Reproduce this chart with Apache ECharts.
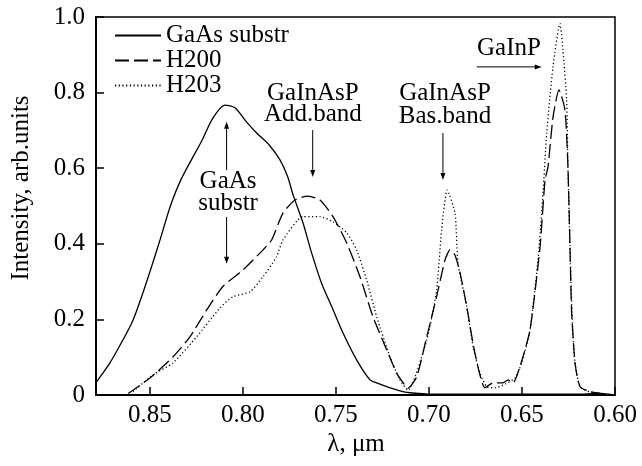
<!DOCTYPE html>
<html>
<head>
<meta charset="utf-8">
<script src="https://cdn.jsdelivr.net/npm/echarts@6/dist/echarts.min.js"></script>
<style>
  html, body { margin: 0; padding: 0; background: #fff; }
  #chart { width: 642px; height: 466px; }
</style>
</head>
<body>
<div id="chart"></div>
<script>
// wavelength (um) and intensity (arb. units)
var gaasLambda = [0.8787, 0.8715, 0.8645, 0.8591, 0.8538, 0.8491, 0.8446, 0.8390, 0.8330, 0.8222, 0.8161, 0.8097, 0.8043,
                  0.7980, 0.7920, 0.7860, 0.7801, 0.7760, 0.7731, 0.7677, 0.7631, 0.7577, 0.7523, 0.7462, 0.7389,
                  0.7317, 0.7281, 0.7227, 0.7156, 0.7102, 0.7012, 0.6500, 0.6200, 0.6100, 0.6000];
var gaasInt = [0.035, 0.085, 0.146, 0.198, 0.270, 0.340, 0.410, 0.500, 0.573, 0.672, 0.733, 0.767, 0.760,
               0.722, 0.690, 0.662, 0.622, 0.578, 0.530, 0.455, 0.376, 0.295, 0.234, 0.164, 0.093,
               0.040, 0.032, 0.022, 0.011, 0.006, 0.003, 0.002, 0.002, 0.004, 0.000];

var h200Lambda = [0.8617, 0.8500, 0.8376, 0.8285, 0.8195, 0.8108, 0.8000, 0.7892, 0.7846, 0.7785, 0.7720, 0.7651,
                  0.7586, 0.7516, 0.7442, 0.7371, 0.7301, 0.7227, 0.7174, 0.7129, 0.7113, 0.7066, 0.7012, 0.6959,
                  0.6914, 0.6887, 0.6860, 0.6833, 0.6797, 0.6753, 0.6699, 0.6656, 0.6602, 0.6575, 0.6548, 0.6511,
                  0.6457, 0.6403, 0.6376, 0.6360, 0.6333, 0.6301, 0.6269, 0.6253, 0.6242, 0.6233, 0.6215, 0.6188,
                  0.6134, 0.6081, 0.6011];
var h200Int = [0.004, 0.045, 0.101, 0.154, 0.225, 0.287, 0.331, 0.384, 0.410, 0.481, 0.516, 0.526,
               0.516, 0.472, 0.402, 0.313, 0.207, 0.119, 0.058, 0.026, 0.018, 0.048, 0.154, 0.260,
               0.357, 0.384, 0.370, 0.323, 0.234, 0.111, 0.019, 0.032, 0.032, 0.040, 0.032, 0.075,
               0.172, 0.392, 0.569, 0.604, 0.736, 0.807, 0.754, 0.604, 0.392, 0.217, 0.085, 0.022,
               0.009, 0.005, 0.000];

var h203Lambda = [0.8591, 0.8484, 0.8376, 0.8249, 0.8124, 0.8054, 0.7962, 0.7892, 0.7819, 0.7785, 0.7677, 0.7586,
                  0.7516, 0.7442, 0.7389, 0.7335, 0.7281, 0.7210, 0.7156, 0.7113, 0.7012, 0.6959, 0.6932, 0.6902,
                  0.6860, 0.6844, 0.6797, 0.6763, 0.6726, 0.6690, 0.6645, 0.6590, 0.6538, 0.6500, 0.6457, 0.6414,
                  0.6387, 0.6367, 0.6333, 0.6296, 0.6280, 0.6260, 0.6253, 0.6242, 0.6231, 0.6215, 0.6188, 0.6134,
                  0.6054];
var h203Int = [0.009, 0.053, 0.085, 0.154, 0.230, 0.260, 0.273, 0.313, 0.366, 0.410, 0.472, 0.472,
               0.458, 0.429, 0.384, 0.304, 0.207, 0.101, 0.040, 0.013, 0.146, 0.278, 0.437, 0.542,
               0.481, 0.349, 0.234, 0.128, 0.058, 0.022, 0.019, 0.029, 0.045, 0.087, 0.172, 0.357,
               0.534, 0.693, 0.869, 0.983, 0.913, 0.780, 0.604, 0.392, 0.217, 0.085, 0.022, 0.008,
               0.003];

var seriesNames = ['GaAs substr', 'H200', 'H203'];

// annotation texts and arrows, in data units [lambda, intensity]
var noteTexts = [
    {text: 'GaAs', at: [0.808, 0.566]},
    {text: 'substr', at: [0.808, 0.508]},
    {text: 'GaInAsP', at: [0.7624, 0.799]},
    {text: 'Add.band', at: [0.7624, 0.741]},
    {text: 'GaInAsP', at: [0.6914, 0.797]},
    {text: 'Bas.band', at: [0.6914, 0.737]},
    {text: 'GaInP', at: [0.657, 0.918]}
];
var noteArrows = [
    [[0.8088, 0.595], [0.8088, 0.723]],
    [[0.8088, 0.471], [0.8088, 0.347]],
    [[0.7625, 0.701], [0.7625, 0.577]],
    [[0.6925, 0.693], [0.6925, 0.569]],
    [[0.6744, 0.868], [0.6394, 0.868]]
];

function pairs(xs, ys) {
    var out = [];
    for (var i = 0; i < xs.length; i++) out.push([xs[i], ys[i]]);
    return out;
}

var FONT = 'Liberation Serif';
var FS = 25;
var chart = echarts.init(document.getElementById('chart'), null, {renderer: 'canvas'});

var option = {
    backgroundColor: '#fff',
    animation: false,
    grid: {left: 96, right: 27, top: 17, bottom: 71, show: true, borderColor: '#000', borderWidth: 1.5},
    legend: {
        orient: 'vertical',
        left: 114,
        top: 23,
        padding: 0,
        itemGap: 0,
        itemWidth: 46,
        itemHeight: 20,
        data: seriesNames,
        itemStyle: {opacity: 0},
        textStyle: {fontFamily: FONT, fontSize: FS, color: '#000', lineHeight: 20}
    },
    xAxis: {
        type: 'value',
        inverse: true,
        min: 0.6,
        max: 0.879,
        interval: 0.05,
        splitLine: {show: false},
        axisLine: {lineStyle: {color: '#000', width: 2}},
        axisTick: {inside: true, length: 8, lineStyle: {color: '#000', width: 1.5}},
        axisLabel: {
            showMaxLabel: false,
            margin: 8,
            fontFamily: FONT, fontSize: FS, color: '#000',
            formatter: function (v) { return v.toFixed(2); }
        }
    },
    yAxis: {
        type: 'value',
        min: 0,
        max: 1,
        interval: 0.2,
        splitLine: {show: false},
        axisLine: {lineStyle: {color: '#000', width: 2}},
        axisTick: {inside: true, length: 8, lineStyle: {color: '#000', width: 1.5}},
        axisLabel: {
            margin: 11,
            fontFamily: FONT, fontSize: FS, color: '#000',
            formatter: function (v) { return v === 0 ? '0' : v.toFixed(1); }
        }
    },
    series: [
        {
            name: seriesNames[0], type: 'line', symbol: 'none', smooth: 0.25,
            lineStyle: {color: '#000', width: 1.3, type: 'solid'},
            itemStyle: {color: '#000'},
            data: pairs(gaasLambda, gaasInt)
        },
        {
            name: seriesNames[1], type: 'line', symbol: 'none', smooth: 0.2,
            lineStyle: {color: '#000', width: 1.3, type: [14, 5]},
            itemStyle: {color: '#000'},
            data: pairs(h200Lambda, h200Int)
        },
        {
            name: seriesNames[2], type: 'line', symbol: 'none', smooth: 0.2,
            lineStyle: {color: '#000', width: 1.3, type: [1.2, 2.5]},
            itemStyle: {color: '#000'},
            data: pairs(h203Lambda, h203Int)
        }
    ]
};
chart.setOption(option);

// annotations placed through the grid's own scales
var els = [];
noteTexts.forEach(function (n) {
    var p = chart.convertToPixel({gridIndex: 0}, n.at);
    els.push({
        type: 'text', x: p[0], y: p[1],
        style: {text: n.text, fontFamily: FONT, fontSize: FS, fill: '#000', align: 'center', verticalAlign: 'middle'}
    });
});
noteArrows.forEach(function (a) {
    var p1 = chart.convertToPixel({gridIndex: 0}, a[0]);
    var p2 = chart.convertToPixel({gridIndex: 0}, a[1]);
    var dx = p2[0] - p1[0], dy = p2[1] - p1[1];
    var len = Math.sqrt(dx * dx + dy * dy);
    var ux = dx / len, uy = dy / len;
    var hl = 7, hw = 2.5;
    var bx = p2[0] - ux * hl, by = p2[1] - uy * hl;
    els.push({
        type: 'line',
        shape: {x1: p1[0], y1: p1[1], x2: bx, y2: by},
        style: {stroke: '#000', lineWidth: 1}
    });
    els.push({
        type: 'polygon',
        shape: {points: [[p2[0], p2[1]], [bx - uy * hw, by + ux * hw], [bx + uy * hw, by - ux * hw]]},
        style: {fill: '#000'}
    });
});
els.push({
    type: 'text', x: 21, y: 188, rotation: Math.PI / 2,
    style: {text: 'Intensity, arb.units', fontFamily: FONT, fontSize: FS, fill: '#000', align: 'center', verticalAlign: 'middle'}
});
els.push({
    type: 'text', x: 356, y: 444,
    style: {text: 'λ, μm', fontFamily: FONT, fontSize: FS, fill: '#000', align: 'center', verticalAlign: 'middle'}
});
chart.setOption({graphic: els});
</script>
</body>
</html>
